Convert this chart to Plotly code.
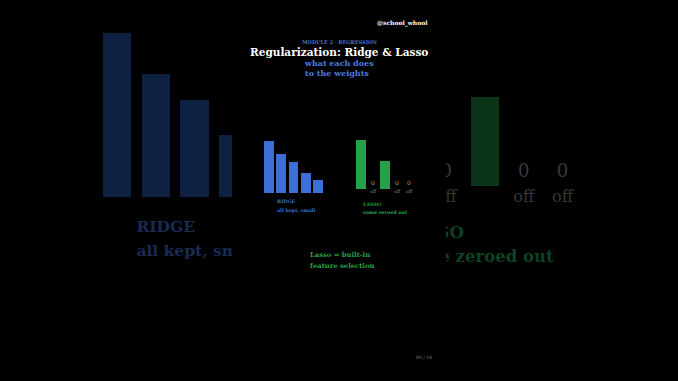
import plotly.graph_objects as go

W, H = 678, 381

# ---------------- data ----------------
ridge_idx = [0, 1, 2, 3, 4]
ridge_w = [1.0, 0.75, 0.59, 0.38, 0.25]
lasso_idx = [0, 1, 2, 3, 4]
lasso_w = [0.95, 0.0, 0.54, 0.0, 0.0]
zero_idx = [i for i, v in zip(lasso_idx, lasso_w) if v == 0]
zero_txt = ["0" for _ in zero_idx]
off_txt = ["off" for _ in zero_idx]

title = "Regularization: Ridge &amp; Lasso"
kicker = "MODULE 2 · REGRESSION"
subtitle = "what each does<br>to the weights"
handle = "@school_whool"
ridge_lbl = ["RIDGE", "all kept, small"]
lasso_lbl = ["LASSO", "some zeroed out"]
takeaway = ["Lasso = built-in", "feature selection"]
page = "09 / 10"

FONT = "DejaVu Serif"
BLUE = "#3c6fd6"
GREEN = "#27a04c"
BG_BLUE = "#0f2142"
BG_GREEN = "#0a3519"
BG_BLUE_TXT = "#1a2b53"
BG_GREEN_TXT = "#0e4223"


def xax(a, b, p0, p1):
    return dict(domain=[p0 / W, p1 / W], range=[(p0 - a) / b, (p1 - a) / b],
                visible=False, fixedrange=True)


def yax(base, scale, q0=0, q1=H):
    return dict(domain=[1 - q1 / H, 1 - q0 / H],
                range=[(base - q1) / scale, (base - q0) / scale],
                visible=False, fixedrange=True)


def bold(lst):
    return [f"<b>{t}</b>" for t in lst]


fig = go.Figure()

# ---------- background (zoomed, dim) ----------
fig.add_trace(go.Bar(x=ridge_idx, y=ridge_w, width=0.73, marker=dict(color=BG_BLUE, line_width=0),
                     xaxis="x", yaxis="y", hoverinfo="skip"))
fig.add_trace(go.Scatter(x=[0.5, 0.5], y=[-0.19, -0.335], mode="text", text=bold(ridge_lbl),
                         textposition="middle right", cliponaxis=True,
                         textfont=dict(family=FONT, size=15.5, color=BG_BLUE_TXT),
                         xaxis="x", yaxis="y", hoverinfo="skip"))

fig.add_trace(go.Bar(x=lasso_idx, y=lasso_w, width=0.73, marker=dict(color=BG_GREEN, line_width=0),
                     xaxis="x2", yaxis="y2", hoverinfo="skip"))
fig.add_trace(go.Scatter(x=zero_idx, y=[0.08] * len(zero_idx), mode="text", text=zero_txt,
                         cliponaxis=True, textfont=dict(family=FONT, size=18, color="#3a3a3a"),
                         xaxis="x2", yaxis="y2", hoverinfo="skip"))
fig.add_trace(go.Scatter(x=zero_idx, y=[-0.075] * len(zero_idx), mode="text", text=off_txt,
                         cliponaxis=True, textfont=dict(family=FONT, size=16, color="#363636"),
                         xaxis="x2", yaxis="y2", hoverinfo="skip"))
fig.add_trace(go.Scatter(x=[-0.15, -0.15], y=[-0.29, -0.44], mode="text", text=bold(lasso_lbl),
                         textposition="middle right", cliponaxis=True,
                         textfont=dict(family=FONT, size=16.5, color=BG_GREEN_TXT),
                         xaxis="x2", yaxis="y2", hoverinfo="skip"))

# ---------- foreground ----------
fig.add_trace(go.Bar(x=ridge_idx, y=ridge_w, width=0.78, marker=dict(color=BLUE, line_width=0),
                     xaxis="x3", yaxis="y3", hoverinfo="skip"))
fig.add_trace(go.Bar(x=lasso_idx, y=lasso_w, width=0.83, marker=dict(color=GREEN, line_width=0),
                     xaxis="x4", yaxis="y4", hoverinfo="skip"))
fig.add_trace(go.Scatter(x=zero_idx, y=[0.115] * len(zero_idx), mode="text", text=zero_txt,
                         textfont=dict(family=FONT, size=6, color="#9a9a9a"),
                         xaxis="x4", yaxis="y4", hoverinfo="skip"))
fig.add_trace(go.Scatter(x=zero_idx, y=[-0.045] * len(zero_idx), mode="text", text=off_txt,
                         textfont=dict(family=FONT, size=5, color="#7a7a7a"),
                         xaxis="x4", yaxis="y4", hoverinfo="skip"))

layout_axes = dict(
    xaxis=xax(117, 38.8, 0, 232), yaxis=yax(197, 164),
    xaxis2=xax(407.4, 38.8, 446, W), yaxis2=yax(186, 164),
    xaxis3=xax(269, 12.25, 0, W), yaxis3=yax(192.7, 52),
    xaxis4=xax(361, 12, 0, W), yaxis4=yax(189.3, 52),
)


def ann(text, x, y, size, color, xanchor="center", bold=True, align="center"):
    return dict(text=f"<b>{text}</b>" if bold else text, x=x / W, y=1 - y / H, xref="paper", yref="paper",
                xanchor=xanchor, yanchor="middle", showarrow=False, align=align,
                font=dict(family=FONT, size=size, color=color))


annotations = [
    ann(handle, 430, 23, 6, "#ffffff", xanchor="right"),
    ann(kicker, 339, 42, 5, "#4b6fc4"),
    ann(title, 339, 52, 10.5, "#ffffff"),
    ann(subtitle, 339, 68.5, 8, "#4a7be0", align="left"),
    ann(ridge_lbl[0], 275, 201, 4.8, BLUE, xanchor="left"),
    ann(ridge_lbl[1], 275, 210, 4.8, BLUE, xanchor="left"),
    ann(lasso_lbl[0], 361, 204, 4.8, GREEN, xanchor="left"),
    ann(lasso_lbl[1], 361, 211.5, 4.8, GREEN, xanchor="left"),
    ann(takeaway[0], 308, 255, 6.8, GREEN, xanchor="left"),
    ann(takeaway[1], 308, 266, 6.8, GREEN, xanchor="left"),
    ann(page, 424, 357, 4.5, "#8a8a8a", bold=False),
]

fig.update_layout(
    width=W, height=H, margin=dict(l=0, r=0, t=0, b=0),
    paper_bgcolor="#000000", plot_bgcolor="rgba(0,0,0,0)",
    showlegend=False, barmode="overlay", bargap=0,
    annotations=annotations, **layout_axes,
)

fig.write_html("out.html", config={"displayModeBar": False})
